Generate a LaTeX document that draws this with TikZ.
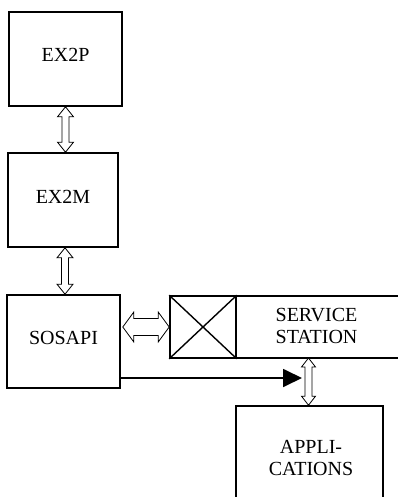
\documentclass[tikz,border=0pt]{standalone}
\usepackage{fontspec}
\setmainfont{Liberation Serif}
\usetikzlibrary{calc,arrows.meta}
\newcommand{\vdarrow}[5]{%
  \draw[dblarrow] (#1) -- ($(#1)+(#4,#5)$) -- ($(#1)+(#3,#5)$) -- ($(#2)+(#3,-#5)$) -- ($(#2)+(#4,-#5)$) -- (#2) -- ($(#2)+(-#4,-#5)$) -- ($(#2)+(-#3,-#5)$) -- ($(#1)+(-#3,#5)$) -- ($(#1)+(-#4,#5)$) -- cycle;}
\newcommand{\hdarrow}[5]{%
  \draw[dblarrow] (#1) -- ($(#1)+(#5,-#4)$) -- ($(#1)+(#5,-#3)$) -- ($(#2)+(-#5,-#3)$) -- ($(#2)+(-#5,-#4)$) -- (#2) -- ($(#2)+(-#5,#4)$) -- ($(#2)+(-#5,#3)$) -- ($(#1)+(#5,#3)$) -- ($(#1)+(#5,#4)$) -- cycle;}
\begin{document}
\begin{tikzpicture}[x=1pt,y=-1pt,
  box/.style={draw=black, line width=1.6pt, fill=white, inner sep=0pt, font=\fontsize{20}{22}\selectfont},
  capt/.style={text height=14pt, text depth=8pt},
  lbl/.style={inner sep=0pt, align=center, font=\fontsize{20}{22}\selectfont},
  dblarrow/.style={draw=black, line width=0.8pt, fill=white, line join=miter},
  solidarrow/.style={line width=1.8pt, -{Triangle[length=19pt,width=18pt]}}]
\useasboundingbox (0,0) rectangle (397,497);
\node[box, capt, minimum width=113pt, minimum height=94pt] (ex2p) at (65.5,59) {EX2P};
\node[box, capt, minimum width=110pt, minimum height=94pt] (ex2m) at (63,200) {EX2M};
\node[box, capt, minimum width=113pt, minimum height=93pt] (sosapi) at (63.5,341.5) {SOSAPI};
\node[box, minimum width=235pt, minimum height=62pt] (ss) at (287.5,327) {};
\node[box, minimum width=66pt, minimum height=62pt] (cross) at (203,327) {};
\draw[line width=1.4pt] (cross.north west) -- (cross.south east) (cross.north east) -- (cross.south west);
\node[lbl] (sstext) at (316.5,326) {SERVICE\\STATION};
\node[box, minimum width=147pt, minimum height=104pt] (appl) at (309.5,458) {};
\node[lbl] (appltext) at (311,458) {APPLI-\\CATIONS};
% connectors
\coordinate (a1) at (ex2p.south);
\coordinate (a2) at (ex2p.south |- ex2m.north);
\vdarrow{a1}{a2}{3.5}{8}{10}
\coordinate (b1) at ($(ex2m.south)+(2,0)$);
\coordinate (b2) at (b1 |- sosapi.north);
\vdarrow{b1}{b2}{3.5}{8}{10}
\coordinate (c1) at ($(sosapi.east)+(2,-14.5)$);
\coordinate (c2) at (cross.west |- c1);
\hdarrow{c1}{c2}{8.5}{15}{11}
\coordinate (d1) at (308.5,358);
\coordinate (d2) at (d1 |- appl.north);
\vdarrow{d1}{d2}{3.5}{7}{9}
\coordinate (e1) at (sosapi.east |- 0,378);
\coordinate (e2) at (302,378);
\draw[solidarrow] (e1) -- (e2);
\end{tikzpicture}
\end{document}
